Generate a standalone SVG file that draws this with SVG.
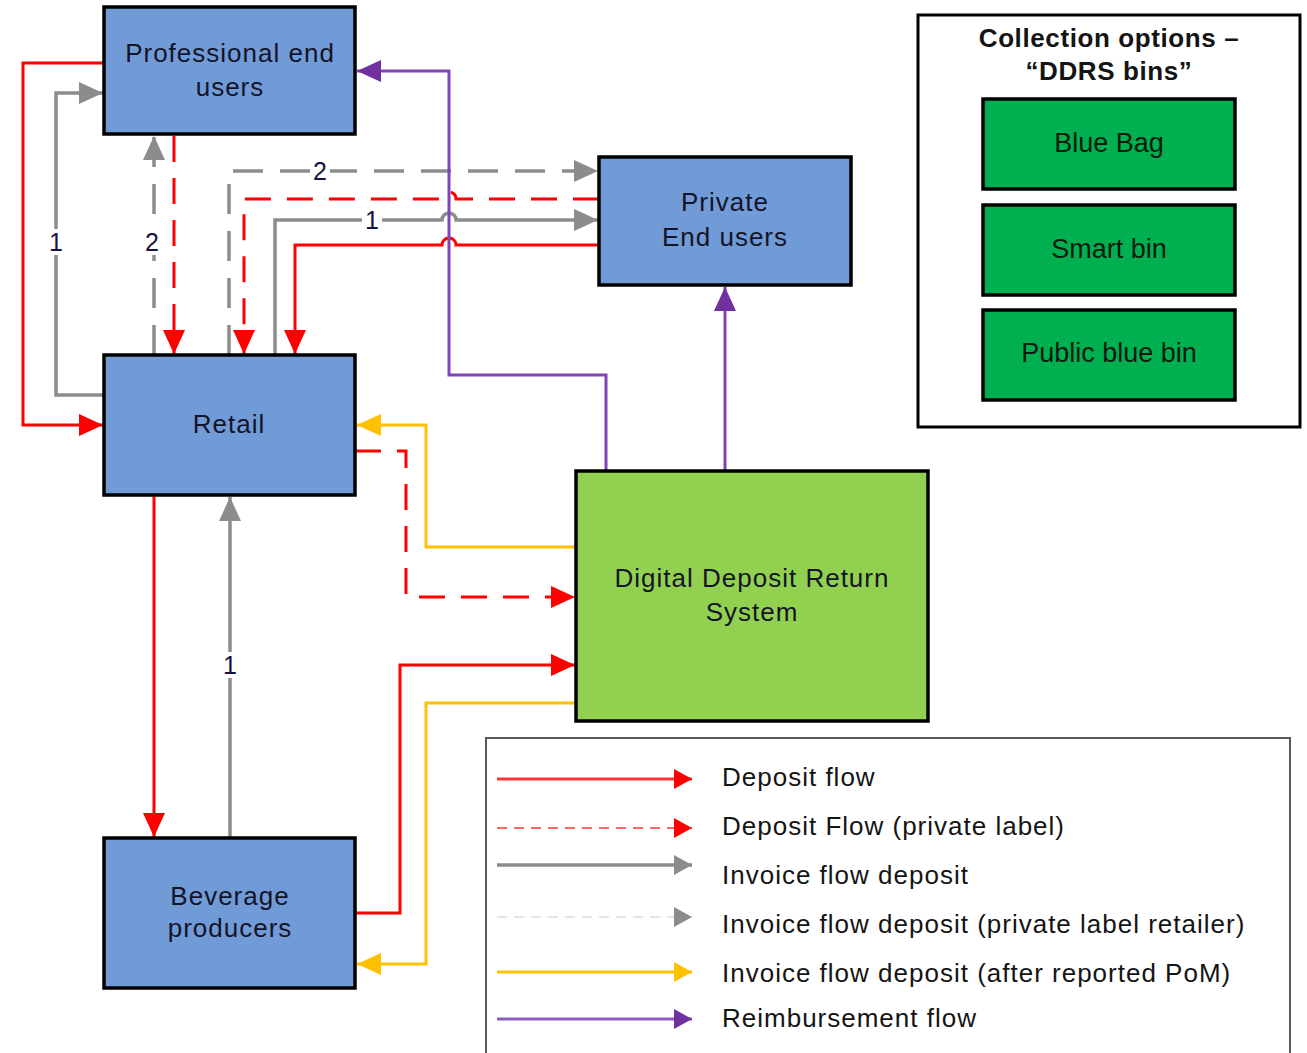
<svg xmlns="http://www.w3.org/2000/svg" width="1307" height="1053" viewBox="0 0 1307 1053">
<style>
.node{fill:#709BD7;stroke:#000;stroke-width:3.5}
.ddrs{fill:#92D050;stroke:#000;stroke-width:3.5}
.bin{fill:#00B050;stroke:#000;stroke-width:3.5}
.t{font-family:"Liberation Sans",Arial,sans-serif;font-size:26px;letter-spacing:1px;fill:#141428;text-anchor:middle}
.bt{font-family:"Liberation Sans",Arial,sans-serif;font-size:27px;fill:#0d1a0d;text-anchor:middle}
.title{font-family:"Liberation Sans",Arial,sans-serif;font-size:26px;font-weight:bold;letter-spacing:0.6px;fill:#141414;text-anchor:middle}
.lt{font-family:"Liberation Sans",Arial,sans-serif;font-size:26px;letter-spacing:1px;fill:#141414}
.lbl{font-family:"Liberation Sans",Arial,sans-serif;font-size:25px;fill:#141440;text-anchor:middle}
.c{fill:none}
.red{stroke:#FF0000;stroke-width:3}
.gray{stroke:#8C8C8C;stroke-width:3.5}
.yel{stroke:#FFC000;stroke-width:3}
.pur{stroke:#7F45B8;stroke-width:3}
.rdash{stroke-dasharray:26 16}
.gdash{stroke-dasharray:30 17}
</style>
<defs>
<marker id="aR" markerUnits="userSpaceOnUse" markerWidth="24" markerHeight="24" refX="24" refY="11" orient="auto"><path d="M0,0 L24,11 L0,22 z" fill="#FF0000"/></marker>
<marker id="aG" markerUnits="userSpaceOnUse" markerWidth="24" markerHeight="24" refX="24" refY="11" orient="auto"><path d="M0,0 L24,11 L0,22 z" fill="#8C8C8C"/></marker>
<marker id="aY" markerUnits="userSpaceOnUse" markerWidth="24" markerHeight="24" refX="24" refY="11" orient="auto"><path d="M0,0 L24,11 L0,22 z" fill="#FFC000"/></marker>
<marker id="aP" markerUnits="userSpaceOnUse" markerWidth="24" markerHeight="24" refX="24" refY="11" orient="auto"><path d="M0,0 L24,11 L0,22 z" fill="#7030A0"/></marker>
<marker id="sR" markerUnits="userSpaceOnUse" markerWidth="20" markerHeight="22" refX="18" refY="10" orient="auto"><path d="M0,0 L18,10 L0,20 z" fill="#FF0000"/></marker>
<marker id="sG" markerUnits="userSpaceOnUse" markerWidth="20" markerHeight="22" refX="18" refY="10" orient="auto"><path d="M0,0 L18,10 L0,20 z" fill="#8C8C8C"/></marker>
<marker id="sY" markerUnits="userSpaceOnUse" markerWidth="20" markerHeight="22" refX="18" refY="10" orient="auto"><path d="M0,0 L18,10 L0,20 z" fill="#FFC000"/></marker>
<marker id="sP" markerUnits="userSpaceOnUse" markerWidth="20" markerHeight="22" refX="18" refY="10" orient="auto"><path d="M0,0 L18,10 L0,20 z" fill="#7030A0"/></marker>
</defs>
<rect width="1307" height="1053" fill="#fff"/>

<g id="connectors">
<path class="c red" d="M104,63 H23 V425 H103" marker-end="url(#aR)"/>
<path class="c gray" d="M104,395 H56 V93 H103" marker-end="url(#aG)"/>
<path class="c gray gdash" d="M154,355 V136" marker-end="url(#aG)"/>
<path class="c red rdash" d="M174,136 V354" marker-end="url(#aR)"/>
<path class="c gray gdash" d="M229,355 V171 H598" marker-end="url(#aG)"/>
<path class="c red rdash" d="M599,199 H456 A7,7 0 0 0 442,199 H244 V354" marker-end="url(#aR)"/>
<path class="c gray" d="M275,355 V220 H442 A7,7 0 0 1 456,220 H598" marker-end="url(#aG)"/>
<path class="c red" d="M599,245 H456 A7,7 0 0 0 442,245 H295 V354" marker-end="url(#aR)"/>
<path class="c pur" d="M606,471 V375 H449 V71 H357" marker-end="url(#aP)"/>
<path class="c pur" d="M725,471 V287" marker-end="url(#aP)"/>
<path class="c yel" d="M576,547 H426 V425 H357" marker-end="url(#aY)"/>
<path class="c red rdash" d="M355,451 H406 V597 H575" marker-end="url(#aR)"/>
<path class="c red" d="M355,913 H400 V665 H575" marker-end="url(#aR)"/>
<path class="c yel" d="M576,703 H426 V964 H357" marker-end="url(#aY)"/>
<path class="c red" d="M154,495 V837" marker-end="url(#aR)"/>
<path class="c gray" d="M230,838 V497" marker-end="url(#aG)"/>
<g id="labels">
<rect x="310" y="158" width="20" height="26" fill="#fff"/><text class="lbl" x="320" y="180">2</text>
<rect x="362" y="207" width="20" height="26" fill="#fff"/><text class="lbl" x="372" y="229">1</text>
<rect x="46" y="229" width="20" height="26" fill="#fff"/><text class="lbl" x="56" y="251">1</text>
<rect x="142" y="229" width="20" height="26" fill="#fff"/><text class="lbl" x="152" y="251">2</text>
<rect x="220" y="652" width="20" height="26" fill="#fff"/><text class="lbl" x="230" y="674">1</text>
</g>
</g>

<g id="professional">
<rect class="node" x="104" y="7" width="251" height="127"/>
<text class="t" x="230" y="62">Professional end</text>
<text class="t" x="230" y="96">users</text>
</g>
<g id="private">
<rect class="node" x="599" y="157" width="252" height="128"/>
<text class="t" x="725" y="211">Private</text>
<text class="t" x="725" y="246">End users</text>
</g>
<g id="retail">
<rect class="node" x="104" y="355" width="251" height="140"/>
<text class="t" x="229" y="433">Retail</text>
</g>
<g id="beverage">
<rect class="node" x="104" y="838" width="251" height="150"/>
<text class="t" x="230" y="905">Beverage</text>
<text class="t" x="230" y="937">producers</text>
</g>
<g id="ddrs">
<rect class="ddrs" x="576" y="471" width="352" height="250"/>
<text class="t" x="752" y="587">Digital Deposit Return</text>
<text class="t" x="752" y="621">System</text>
</g>

<g id="collection">
<rect x="918" y="15" width="382" height="412" fill="#fff" stroke="#000" stroke-width="3"/>
<text class="title" x="1109" y="47">Collection options –</text>
<text class="title" x="1109" y="80">“DDRS bins”</text>
<g id="bluebag"><rect class="bin" x="983" y="99" width="252" height="90"/><text class="bt" x="1109" y="152">Blue Bag</text></g>
<g id="smartbin"><rect class="bin" x="983" y="205" width="252" height="90"/><text class="bt" x="1109" y="258">Smart bin</text></g>
<g id="publicbin"><rect class="bin" x="983" y="310" width="252" height="90"/><text class="bt" x="1109" y="362">Public blue bin</text></g>
</g>

<g id="legend">
<rect x="486" y="738" width="804" height="330" fill="none" stroke="#595959" stroke-width="2"/>
<line x1="497" y1="779" x2="692" y2="779" stroke="#FF3333" stroke-width="3" marker-end="url(#sR)"/>
<line x1="497" y1="828" x2="692" y2="828" stroke="#FF6666" stroke-width="2" stroke-dasharray="10 7" marker-end="url(#sR)"/>
<line x1="497" y1="865" x2="692" y2="865" stroke="#8C8C8C" stroke-width="3.5" marker-end="url(#sG)"/>
<line x1="497" y1="917" x2="692" y2="917" stroke="#DDDDDD" stroke-width="1.5" stroke-dasharray="10 7" marker-end="url(#sG)"/>
<line x1="497" y1="972" x2="692" y2="972" stroke="#FFC000" stroke-width="3" marker-end="url(#sY)"/>
<line x1="497" y1="1019" x2="692" y2="1019" stroke="#8E5CC0" stroke-width="3" marker-end="url(#sP)"/>
<text class="lt" x="722" y="786">Deposit flow</text>
<text class="lt" x="722" y="835">Deposit Flow (private label)</text>
<text class="lt" x="722" y="884">Invoice flow deposit</text>
<text class="lt" x="722" y="933">Invoice flow deposit (private label retailer)</text>
<text class="lt" x="722" y="982">Invoice flow deposit (after reported PoM)</text>
<text class="lt" x="722" y="1027">Reimbursement flow</text>
</g>
</svg>
